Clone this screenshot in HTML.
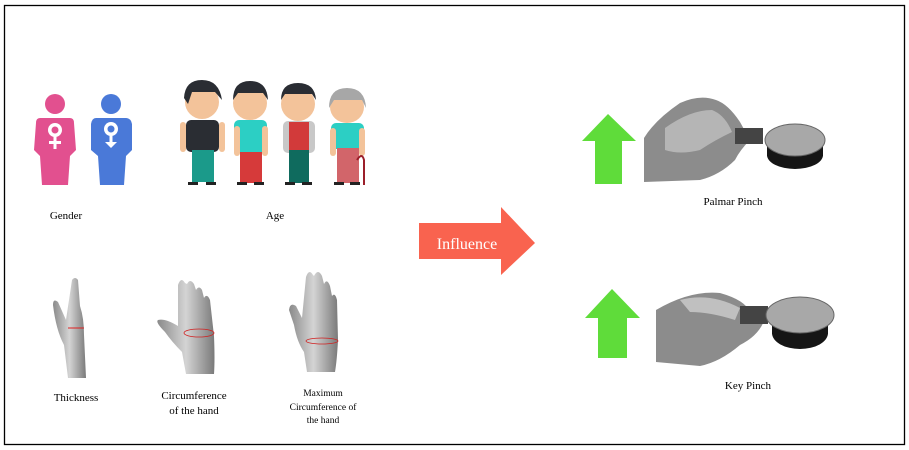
<!DOCTYPE html>
<html><head><meta charset="utf-8"><style>
body{margin:0;background:#fff;}
svg{display:block;}
text{font-family:"Liberation Serif",serif;fill:#000;}
</style></head><body>
<svg width="909" height="450" viewBox="0 0 909 450" xmlns="http://www.w3.org/2000/svg">
<rect x="4.5" y="5.5" width="900" height="439" fill="#fff" stroke="#000" stroke-width="1.3"/>

<!-- Gender icons -->
<g fill="#e2508f">
<circle cx="55" cy="104" r="10"/>
<path d="M40 118 H70 Q74 118 74 123 L76 150 L70 156 L68 185 H42 L40 156 L34 150 L36 123 Q36 118 40 118Z"/>
</g>
<g fill="#fff"><circle cx="55" cy="130" r="7"/><circle cx="55" cy="130" r="3.5" fill="#e2508f"/><rect x="53.5" y="136" width="3" height="13"/><rect x="49" y="141" width="12" height="3"/></g>
<g fill="#4a79d8">
<circle cx="111" cy="104" r="10"/>
<path d="M96 118 H126 Q131 118 132 124 L132 150 L126 156 L124 185 H100 L98 156 L91 150 L91 124 Q92 118 96 118Z"/>
</g>
<g fill="#fff"><circle cx="111" cy="129" r="7"/><circle cx="111" cy="129" r="3.5" fill="#4a79d8"/><rect x="109.5" y="135" width="3" height="10"/><path d="M105 142 L111 148 L117 142Z"/></g>

<!-- People -->
<g>
<ellipse cx="202" cy="102" rx="17" ry="17" fill="#f3c39a"/>
<path d="M184 98 Q185 80 202 80 Q219 80 222 100 L215 92 L192 92 L188 104Z" fill="#2a2d33"/>
<rect x="186" y="120" width="33" height="32" rx="5" fill="#2a2d33"/>
<rect x="180" y="122" width="6" height="30" rx="3" fill="#f3c39a"/><rect x="219" y="122" width="6" height="30" rx="3" fill="#f3c39a"/>
<rect x="192" y="150" width="22" height="32" fill="#1b9a8a"/>
<rect x="188" y="182" width="10" height="3" fill="#222"/><rect x="206" y="182" width="10" height="3" fill="#222"/>
<ellipse cx="250" cy="103" rx="17" ry="17" fill="#f3c39a"/>
<path d="M233 100 Q233 81 250 81 Q267 81 268 100 L263 93 L238 93Z" fill="#2a2d33"/>
<rect x="234" y="120" width="33" height="32" rx="5" fill="#2ccfc4"/>
<rect x="234" y="126" width="6" height="30" rx="3" fill="#f3c39a"/><rect x="262" y="126" width="6" height="30" rx="3" fill="#f3c39a"/>
<rect x="240" y="152" width="22" height="31" fill="#d63a3a"/>
<rect x="237" y="182" width="10" height="3" fill="#222"/><rect x="254" y="182" width="10" height="3" fill="#222"/>
<ellipse cx="298" cy="104" rx="17" ry="17" fill="#f3c39a"/>
<path d="M281 100 Q281 83 298 83 Q315 83 316 100 L312 94 L285 94Z" fill="#2a2d33"/>
<rect x="283" y="121" width="32" height="32" rx="5" fill="#c8c8c8"/>
<rect x="289" y="122" width="20" height="30" fill="#d23a3a"/>
<rect x="289" y="150" width="20" height="33" fill="#0f6b5e"/>
<rect x="285" y="182" width="10" height="3" fill="#222"/><rect x="302" y="182" width="10" height="3" fill="#222"/>
<ellipse cx="347" cy="107" rx="17" ry="16" fill="#f3c39a"/>
<path d="M329 108 Q329 88 347 88 Q365 88 366 108 L362 100 L334 100Z" fill="#a7a7a7"/>
<rect x="331" y="123" width="33" height="26" rx="5" fill="#2ccfc4"/>
<rect x="330" y="128" width="6" height="28" rx="3" fill="#f3c39a"/><rect x="359" y="128" width="6" height="28" rx="3" fill="#f3c39a"/>
<rect x="337" y="148" width="22" height="35" fill="#d2656a"/>
<path d="M357 160 Q362 152 364 160 L364 185" stroke="#9b1f2a" stroke-width="2" fill="none"/>
<rect x="334" y="182" width="10" height="3" fill="#222"/><rect x="350" y="182" width="10" height="3" fill="#222"/>
</g>

<text x="66" y="219" font-size="11" text-anchor="middle">Gender</text>
<text x="275" y="219" font-size="11" text-anchor="middle">Age</text>

<path d="M419 223 H501 V207 L535 243 L501 275 V259 H419Z" fill="#f9634f"/>
<text x="467" y="249" font-size="16" text-anchor="middle" style="fill:#fff">Influence</text>

<defs><linearGradient id="hg" x1="0" y1="0" x2="1" y2="0"><stop offset="0" stop-color="#8a8a8a"/><stop offset="0.5" stop-color="#d4d4d4"/><stop offset="1" stop-color="#7a7a7a"/></linearGradient></defs>
<!-- thickness hand -->
<path d="M72 280 Q75 276 78 280 L80 306 Q84 318 84 335 L86 378 H68 L64 345 Q56 330 53 305 Q53 298 58 302 L66 320 Z" fill="url(#hg)"/>
<line x1="68" y1="328" x2="84" y2="328" stroke="#e02020" stroke-width="1"/>
<!-- circumference hand -->
<path d="M178 285 Q181 276 185 283 L187 284 Q190 278 194 284 L196 290 Q199 285 202 290 L204 298 Q207 293 210 300 L212 318 L214 336 Q215 360 214 374 H186 L182 352 Q172 342 165 332 Q155 322 158 320 Q165 318 178 326 Z" fill="url(#hg)"/>
<ellipse cx="199" cy="333" rx="15" ry="4" fill="none" stroke="#d02020" stroke-width="0.8"/>
<!-- max circumference hand -->
<path d="M306 277 Q309 268 313 275 L314 276 Q318 268 322 276 L324 284 Q327 278 330 286 L332 296 Q335 292 337 300 L338 340 Q337 360 335 372 H307 L304 352 Q297 342 294 325 L289 310 Q290 302 296 306 L302 318 Z" fill="url(#hg)"/>
<ellipse cx="322" cy="341" rx="16" ry="3" fill="none" stroke="#d02020" stroke-width="0.8"/>

<text x="76" y="401" font-size="11" text-anchor="middle">Thickness</text>
<text x="194" y="399" font-size="11" text-anchor="middle">Circumference</text>
<text x="194" y="414" font-size="11" text-anchor="middle">of the hand</text>
<text x="323" y="396" font-size="9.5" text-anchor="middle">Maximum</text>
<text x="323" y="410" font-size="9.5" text-anchor="middle">Circumference of</text>
<text x="323" y="423" font-size="9.5" text-anchor="middle">the hand</text>

<path d="M608 114 L636 141 H622 V184 H595 V141 H582Z" fill="#5fdc3a"/>
<path d="M612 289 L640 318 H627 V358 H598 V318 H585Z" fill="#5fdc3a"/>

<path d="M644 138 Q655 120 680 103 Q700 94 716 100 Q728 104 740 122 L750 140 Q740 150 735 160 Q720 175 700 180 L644 182Z" fill="#8c8c8c"/>
<path d="M665 128 Q690 110 712 110 Q725 115 732 132 Q715 140 700 150 Q680 155 665 150Z" fill="#b5b5b5"/>
<rect x="735" y="128" width="28" height="16" fill="#444"/>
<ellipse cx="795" cy="155" rx="28" ry="14" fill="#151515"/>
<rect x="767" y="142" width="56" height="14" fill="#151515"/>
<ellipse cx="795" cy="140" rx="30" ry="16" fill="#a8a8a8" stroke="#666"/>
<path d="M656 310 Q690 290 720 293 Q745 300 750 312 L765 318 Q760 335 740 345 Q720 362 700 366 L656 362Z" fill="#8c8c8c"/>
<path d="M680 300 Q710 292 740 308 L735 320 Q710 312 690 312Z" fill="#c0c0c0"/>
<rect x="740" y="306" width="28" height="18" fill="#444"/>
<ellipse cx="800" cy="333" rx="28" ry="16" fill="#151515"/>
<rect x="772" y="318" width="56" height="16" fill="#151515"/>
<ellipse cx="800" cy="315" rx="34" ry="18" fill="#a8a8a8" stroke="#666"/>

<text x="733" y="205" font-size="11" text-anchor="middle">Palmar Pinch</text>
<text x="748" y="389" font-size="11" text-anchor="middle">Key Pinch</text>
</svg>
</body></html>
